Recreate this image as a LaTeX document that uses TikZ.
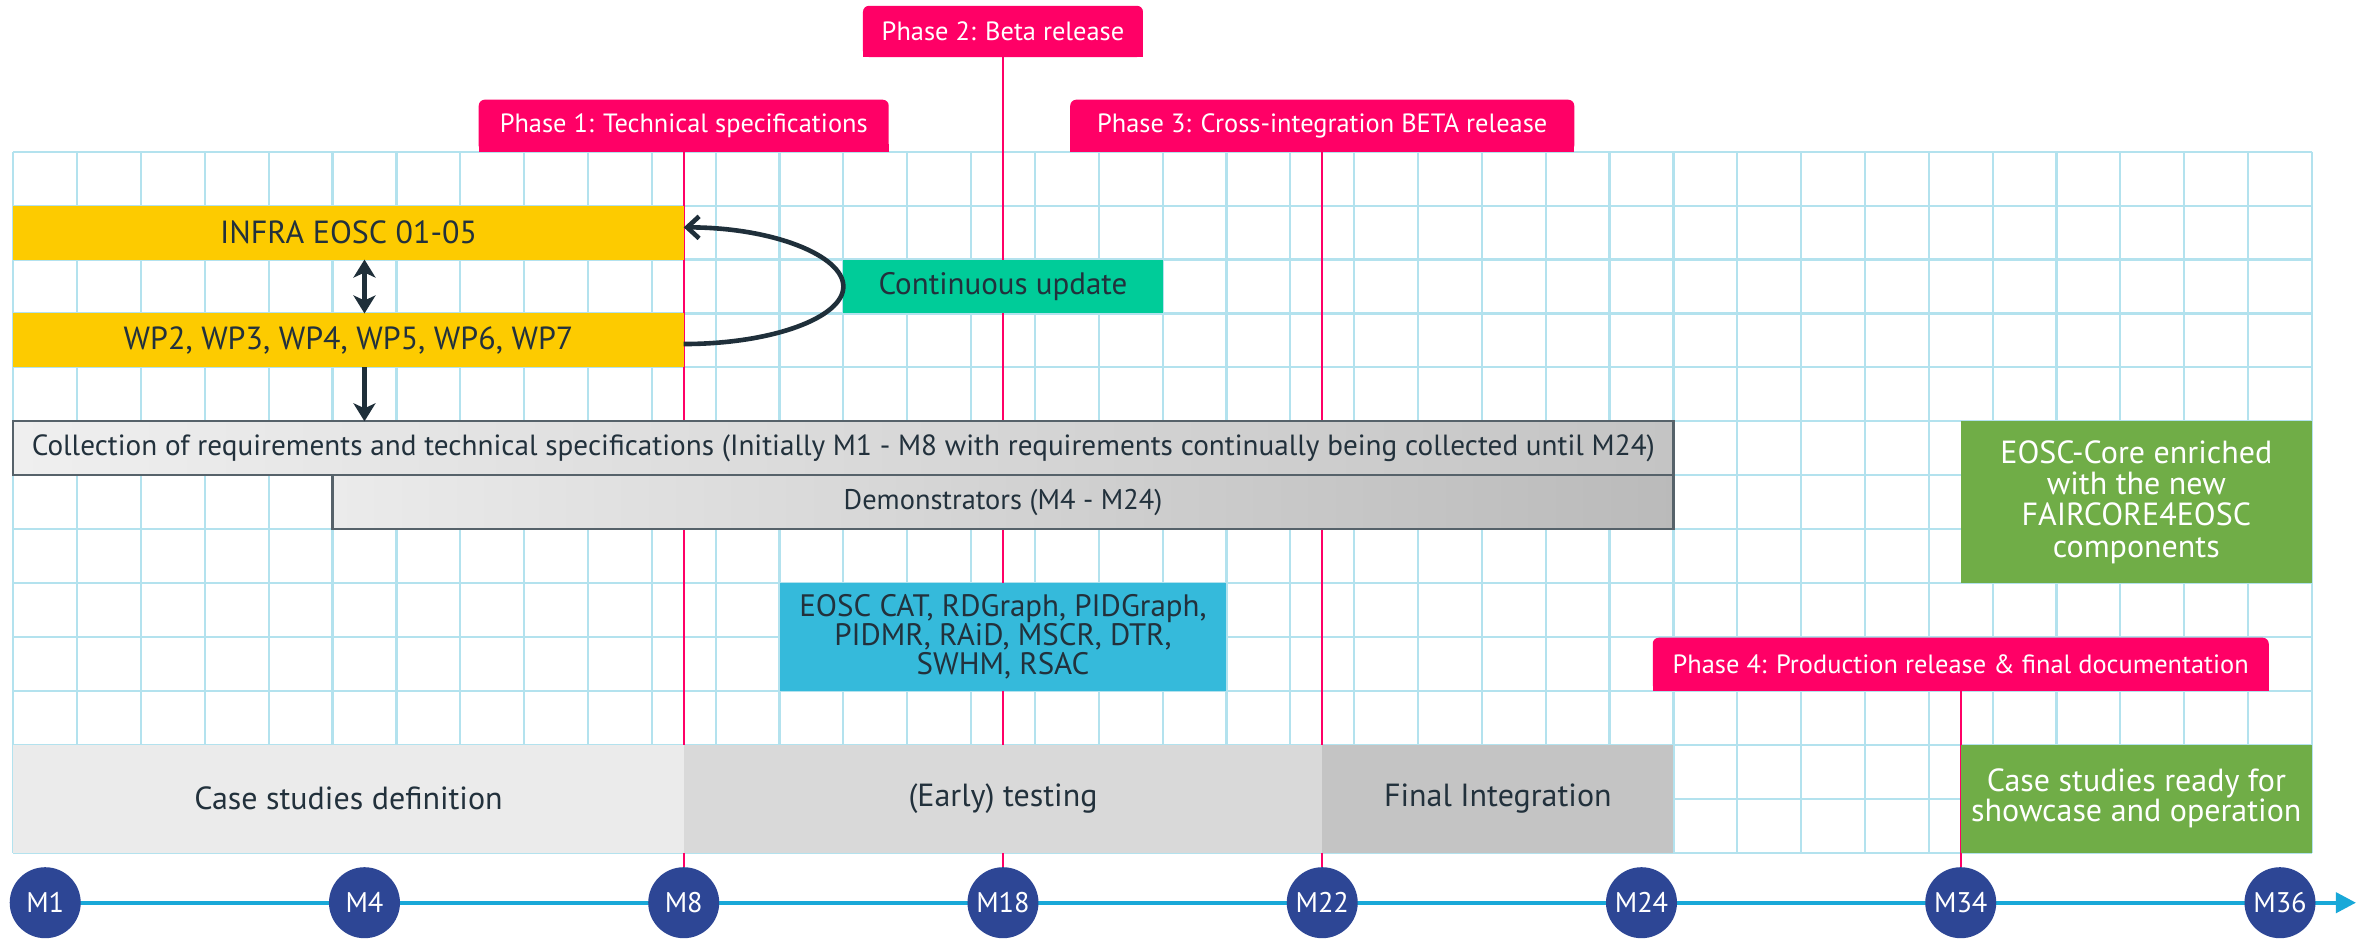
\documentclass[tikz,border=0pt]{standalone}
\usepackage{fontspec}
\setmainfont{PT Sans}
\usetikzlibrary{arrows.meta}
\definecolor{pinkc}{HTML}{FF0066}
\definecolor{gridc}{HTML}{B3E2EE}
\definecolor{yellowc}{HTML}{FDCB00}
\definecolor{contc}{HTML}{00CC99}
\definecolor{bluec}{HTML}{35BADB}
\definecolor{greenc}{HTML}{70AD47}
\definecolor{navyc}{HTML}{2D4695}
\definecolor{tlc}{HTML}{19A8D8}
\definecolor{txtc}{HTML}{22313C}
\definecolor{borderc}{HTML}{56626A}
\definecolor{arrc}{HTML}{1F2F3A}
\definecolor{grayA}{HTML}{EBEBEB}
\definecolor{grayB}{HTML}{D9D9D9}
\definecolor{grayC}{HTML}{C4C4C4}
\pgfdeclarelayer{bglayer}
\pgfdeclarelayer{gridlayer}
\pgfdeclarelayer{linelayer}
\pgfsetlayers{bglayer,gridlayer,linelayer,main}
\tikzset{
  fs/.style={font=\fontsize{#1}{15.5}\selectfont},
  cells/.style 2 args={minimum width=#1*31.925pt, minimum height=#2*26.96pt,
    anchor=north west, inner sep=0pt, outer sep=0pt, text=txtc, align=center},
  phasebox/.style={fill=pinkc, text=white, font=\fontsize{13.2}{15}\selectfont,
    minimum height=26pt, inner sep=0pt, outer sep=0pt, anchor=south, rounded corners=3pt},
  graybar/.style={draw=borderc, line width=1.1pt},
  mcirc/.style={circle, fill=navyc, text=white, minimum size=35.5pt, inner sep=0pt,
    font=\fontsize{14.2}{14}\selectfont},
  gridl/.style={draw=gridc, line width=1.1pt},
  phaseline/.style={draw=pinkc, line width=1.2pt},
  darrow/.style={draw=arrc, line width=2.6pt, {Stealth[length=9pt,width=11pt,inset=2.5pt]}-{Stealth[length=9pt,width=11pt,inset=2.5pt]}},
  sarrow/.style={draw=arrc, line width=2.6pt, -{Stealth[length=9pt,width=11pt,inset=2.5pt]}},
  looparrow/.style={draw=arrc, line width=2.3pt, -{Straight Barb[length=6pt,width=11pt]}},
  tline/.style={draw=tlc, line width=2pt, -{Triangle[length=10pt,width=10pt]}},
}
\begin{document}
\begin{tikzpicture}[x=31.925pt, y=-26.96pt]
\useasboundingbox (-0.2083,-2.8134) rectangle (36.894,14.620);
\begin{pgfonlayer}{bglayer}
\fill[white] (-0.2083,-2.8134) rectangle (36.894,14.620);
\end{pgfonlayer}

% grid
\begin{pgfonlayer}{gridlayer}
\foreach \i in {0,...,36} \draw[gridl] (\i,0) -- (\i,13);
\foreach \j in {0,...,13} \draw[gridl] (0,\j) -- (36,\j);
\end{pgfonlayer}

% phase labels
\node[phasebox, minimum width=205pt] (p1) at (10.5,0) {Phase 1: Technical specifications};
\node[phasebox, minimum width=140pt, minimum height=25.6pt] (p2) at (15.5,-1.756) {Phase 2: Beta release};
\node[phasebox, minimum width=252pt] (p3) at (20.5,0) {Phase 3: Cross-integration BETA release};
\node[phasebox, minimum width=308pt, minimum height=26.6pt] (p4) at (30.5,10) {Phase 4: Production release \& final documentation};
\fill[pinkc] (p1.south west) rectangle ([yshift=4pt]p1.south east);
\fill[pinkc] (p2.south west) rectangle ([yshift=4pt]p2.south east);
\fill[pinkc] (p3.south west) rectangle ([yshift=4pt]p3.south east);
\fill[pinkc] (p4.south west) rectangle ([yshift=4pt]p4.south east);

% work package bars
\node[cells={10.5}{1}, fill=yellowc, fs=16] (infra) at (0,1) {INFRA EOSC 01-05};
\node[cells={10.5}{1}, fill=yellowc, fs=16] (wp) at (0,3) {WP2, WP3, WP4, WP5, WP6, WP7};
\node[cells={5}{1}, fill=contc, fs=15.5] (cont) at (13,2) {Continuous update};

\node[cells={26}{1}, graybar, left color=grayA!80!white, right color=grayC, fs=14.6] (coll) at (0,5)
  {Collection of requirements and technical specifications (Initially M1 - M8 with requirements continually being collected until M24)};
\node[cells={21}{1}, graybar, left color=grayA, right color=grayC!95!black, fs=14.2] (demo) at (5,6) {Demonstrators (M4 - M24)};

\node[cells={7}{2}, fill=bluec, font=\fontsize{15.5}{14.6}\selectfont] (comp) at (12,8)
  {EOSC CAT, RDGraph, PIDGraph,\\PIDMR, RAiD, MSCR, DTR,\\SWHM, RSAC};

\node[cells={5.5}{3}, text=white, fill=greenc, font=\fontsize{16}{15.6}\selectfont] (core) at (30.5,5)
  {EOSC-Core enriched\\with the new\\FAIRCORE4EOSC\\components};
\node[cells={5.5}{2}, text=white, fill=greenc, font=\fontsize{16}{15}\selectfont] (ready) at (30.5,11)
  {Case studies ready for\\showcase and operation};

% bottom phases
\node[cells={10.5}{2}, fill=grayA, fs=16] (csd) at (0,11) {Case studies definition};
\node[cells={10}{2}, fill=grayB, fs=16] (test) at (10.5,11) {(Early) testing};
\node[cells={5.5}{2}, fill=grayC, fs=16] (fin) at (20.5,11) {Final Integration};

% milestones
\node[mcirc] (m1) at (0.5,13.928) {M1};
\node[mcirc] (m4) at (5.5,13.928) {M4};
\node[mcirc] (m8) at (10.5,13.928) {M8};
\node[mcirc] (m18) at (15.5,13.928) {M18};
\node[mcirc] (m22) at (20.5,13.928) {M22};
\node[mcirc] (m24) at (25.5,13.928) {M24};
\node[mcirc] (m34) at (30.5,13.928) {M34};
\node[mcirc] (m36) at (35.5,13.928) {M36};
\coordinate (tlend) at (36.69,13.928);

\begin{pgfonlayer}{linelayer}
\draw[phaseline] (p1.south) -- (m8.north);
\draw[phaseline] (p2.south) -- (m18.north);
\draw[phaseline] (p3.south) -- (m22.north);
\draw[phaseline] (p4.south) -- (m34.north);
\draw[tline] (m1.center) -- (tlend);
\end{pgfonlayer}

% arrows
\draw[darrow] (infra.south -| m4) -- (wp.north -| m4);
\draw[sarrow] (wp.south -| m4) -- (coll.north -| m4);
\draw[looparrow] ([yshift=-1.8pt]wp.east) .. controls +(1.38,0) and +(0,0.58) .. (cont.west)
  .. controls +(0,-0.58) and +(1.38,0) .. ([yshift=2.6pt]infra.east);
\end{tikzpicture}
\end{document}
